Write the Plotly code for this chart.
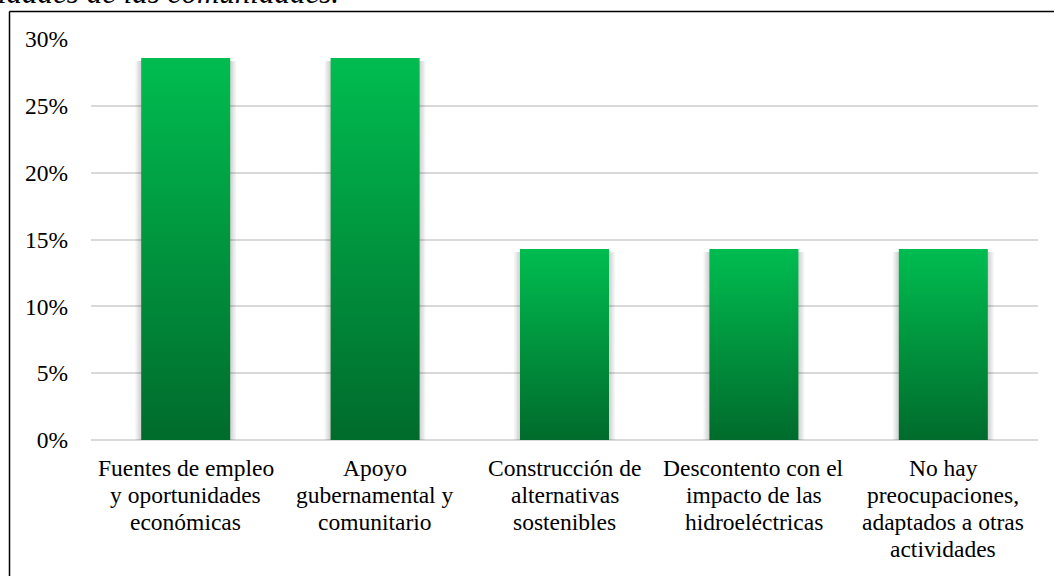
import plotly.graph_objects as go

# Categorías del eje X (saltos de línea tal como se muestran)
categorias = [
    "Fuentes de empleo<br>y oportunidades<br>económicas",
    "Apoyo<br>gubernamental y<br>comunitario",
    "Construcción de<br>alternativas<br>sostenibles",
    "Descontento con el<br>impacto de las<br>hidroeléctricas",
    "No hay<br>preocupaciones,<br>adaptados a otras<br>actividades",
]
# Porcentaje de respuestas por categoría
porcentajes = [28.57, 28.57, 14.29, 14.29, 14.29]
# Marcas del eje Y
ticks_y = [0, 5, 10, 15, 20, 25, 30]

# Lienzo y márgenes (px)
W, H = 1054, 576
L, R, T, B = 91, 16, 39, 136
plot_w = W - L - R
plot_h = H - T - B

x_min, x_max = -0.5, len(categorias) - 0.5
y_min, y_max = 0, 30
ux = (x_max - x_min) / plot_w  # unidades de x por píxel
uy = (y_max - y_min) / plot_h  # unidades de y por píxel
media_barra = 0.235

verde_claro = "#00BD50"
verde_oscuro = "#006B2C"

fuente = "Liberation Serif"
tam_fuente = 23.5
interlineado = 27.0   # px entre líneas de las etiquetas de categoría
sep_etiqueta = 13     # px entre el eje y la primera línea


def px_a_papel_x(px):
    return (px - L) / plot_w


def px_a_papel_y(py):
    return (H - B - py) / plot_h


fig = go.Figure()

# Sombra difusa detrás de cada barra
for i, v in enumerate(porcentajes):
    for k in (6, 4.5, 3, 1.5):
        dx = k * ux
        x0, x1 = i - media_barra - dx, i + media_barra + dx
        y0, y1 = 0, v - 3 * uy
        fig.add_trace(go.Scatter(
            x=[x0, x1, x1, x0, x0], y=[y0, y0, y1, y1, y0],
            mode="lines", line=dict(width=0), fill="toself",
            fillcolor="rgba(0,0,0,0.045)", hoverinfo="skip", showlegend=False,
        ))

# Barras con degradado vertical
for i, v in enumerate(porcentajes):
    x0, x1 = i - media_barra, i + media_barra
    fig.add_trace(go.Scatter(
        x=[x0, x1, x1, x0, x0], y=[0, 0, v, v, 0],
        mode="lines", line=dict(width=0), fill="toself",
        fillgradient=dict(type="vertical",
                          colorscale=[[0, verde_oscuro], [1, verde_claro]]),
        hoverinfo="skip", showlegend=False,
    ))

# Etiquetas de categoría, una anotación por línea para controlar el interlineado
anotaciones = []
for i, cat in enumerate(categorias):
    for j, linea in enumerate(cat.split("<br>")):
        anotaciones.append(dict(
            text=linea, xref="x", yref="paper", x=i, y=0,
            xanchor="center", yanchor="top",
            yshift=-(sep_etiqueta + j * interlineado),
            showarrow=False,
            font=dict(family=fuente, size=tam_fuente, color="#000000"),
        ))

# Título (cortado por el borde superior)
anotaciones.append(dict(
    text="<i>idades de las comunidades.</i>",
    xref="paper", yref="paper",
    x=px_a_papel_x(341), y=px_a_papel_y(11.5),
    xanchor="right", yanchor="bottom", showarrow=False,
    font=dict(family=fuente, size=31, color="#000000"),
))

fig.update_layout(
    width=W, height=H,
    margin=dict(l=L, r=R, t=T, b=B),
    paper_bgcolor="white", plot_bgcolor="white",
    font=dict(family=fuente, size=tam_fuente, color="#000000"),
    showlegend=False,
    xaxis=dict(
        range=[x_min, x_max], tickmode="array",
        tickvals=list(range(len(categorias))), showticklabels=False,
        showgrid=False, zeroline=False, showline=False, ticks="",
        fixedrange=True,
    ),
    yaxis=dict(
        range=[y_min, y_max], tickmode="array", tickvals=ticks_y,
        ticktext=[f"{t}%" for t in ticks_y],
        showgrid=True, gridcolor="#D9D9D9", gridwidth=1.5,
        zeroline=True, zerolinecolor="#D9D9D9", zerolinewidth=1.5,
        showline=False, ticks="", ticklabelstandoff=22,
        fixedrange=True,
    ),
    shapes=[
        # Marco del gráfico (continúa fuera del lienzo)
        dict(type="line", xref="paper", yref="paper",
             x0=px_a_papel_x(9.5), x1=px_a_papel_x(W + 5),
             y0=px_a_papel_y(11.5), y1=px_a_papel_y(11.5),
             line=dict(color="#000000", width=1.5)),
        dict(type="line", xref="paper", yref="paper",
             x0=px_a_papel_x(9.5), x1=px_a_papel_x(9.5),
             y0=px_a_papel_y(11.5), y1=px_a_papel_y(H + 5),
             line=dict(color="#000000", width=1.5)),
    ],
    annotations=anotaciones,
)

fig.write_html("out.html")
